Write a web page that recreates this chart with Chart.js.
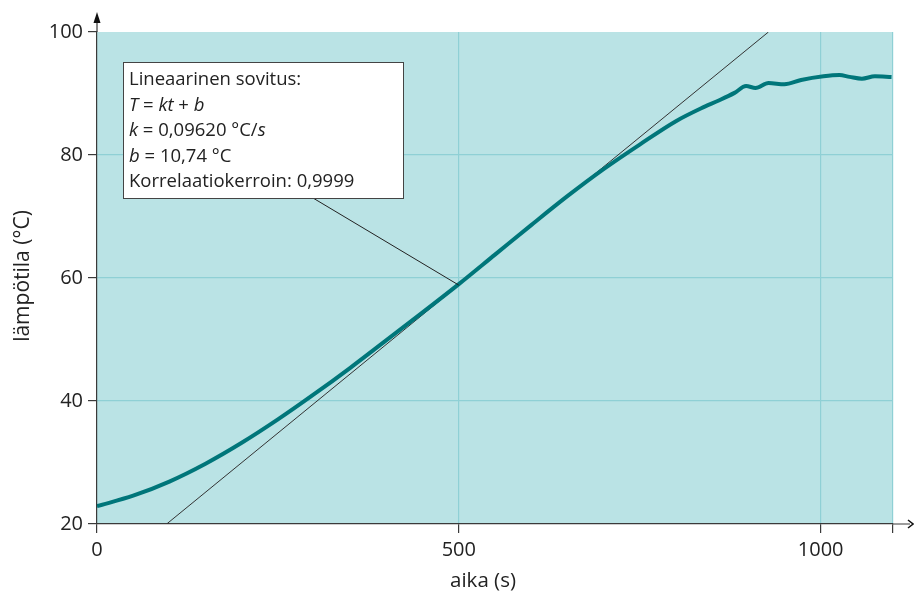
<!DOCTYPE html>
<html>
<head>
<meta charset="utf-8">
<script src="https://cdn.jsdelivr.net/npm/chart.js@4.4.1/dist/chart.umd.min.js"></script>
<style>
  html, body { margin: 0; padding: 0; background: #fff; }
  #wrap { width: 914px; height: 595px; }
</style>
</head>
<body>
<div id="wrap"><canvas id="tempChart" width="914" height="595"></canvas></div>
<script>
/* ---- data ---- */
const timeValues = [0, 50, 100, 150, 200, 250, 300, 350, 400, 450, 500, 550, 600, 650, 700,
  750, 800, 835, 860, 881, 897, 910, 928, 950, 973, 1004, 1026, 1040, 1057, 1075, 1098];
const tempValues = [22.9, 24.6, 26.9, 29.8, 33.2, 37.0, 41.1, 45.4, 49.9, 54.4, 59.0, 63.8, 68.6, 73.3, 77.7,
  81.7, 85.5, 87.6, 88.9, 90.1, 91.2, 90.9, 91.7, 91.5, 92.2, 92.8, 93.0, 92.7, 92.4, 92.8, 92.7];

// linear fit T = k t + b
const fitK = 0.09620;
const fitB = 10.74;

const xTicks = [0, 500, 1000, 1100];
const yTicks = [20, 40, 60, 80, 100];
const xGridAt = [500, 1000, 1100];
const yGridAt = [40, 60, 80];

const xTitle = "aika (s)";
const yTitle = "lämpötila (°C)";

// text box, each line as [text, italic?] pieces
const fitLines = [
  [["Lineaarinen sovitus:", false]],
  [["T", true], [" = ", false], ["kt", true], [" + ", false], ["b", true]],
  [["k", true], [" = 0,09620 °C/", false], ["s", true]],
  [["b", true], [" = 10,74 °C", false]],
  [["Korrelaatiokerroin: 0,9999", false]]
];

const FONT = "'Open Sans', 'DejaVu Sans', sans-serif";
const AXIS_COL = "#3a3a3a";
const GRID_COL = "#8fd0d5";
const BG_COL = "#bae3e5";

/* ---- build series ---- */
const measured = timeValues.map((t, i) => ({ x: t, y: tempValues[i] }));
const tStart = (yTicks[0] - fitB) / fitK;
const tEnd = (yTicks[yTicks.length - 1] - fitB) / fitK;
const fitted = [tStart, tEnd].map((t) => ({ x: t, y: fitK * t + fitB }));

/* ---- plot background, arrows, titles, text box ---- */
const decor = {
  id: "decor",
  beforeDraw(chart) {
    const { ctx, chartArea: a } = chart;
    ctx.save();
    ctx.fillStyle = BG_COL;
    ctx.fillRect(a.left, a.top, a.right - a.left, a.bottom - a.top);
    ctx.restore();
  },
  afterDraw(chart) {
    const { ctx, chartArea: a, scales } = chart;
    ctx.save();
    // axis extensions with arrow heads
    ctx.strokeStyle = AXIS_COL;
    ctx.fillStyle = "#111";
    ctx.lineWidth = 1.2;
    ctx.beginPath();
    ctx.moveTo(a.left, a.top);
    ctx.lineTo(a.left, 20);
    ctx.moveTo(a.right, a.bottom);
    ctx.lineTo(910, a.bottom);
    ctx.stroke();
    ctx.beginPath();
    ctx.moveTo(a.left, 12);
    ctx.lineTo(a.left - 3.5, 23);
    ctx.lineTo(a.left + 3.5, 23);
    ctx.closePath();
    ctx.fill();
    ctx.lineWidth = 1.5;
    ctx.strokeStyle = "#111";
    ctx.beginPath();
    ctx.moveTo(908, a.bottom - 4);
    ctx.lineTo(913, a.bottom);
    ctx.lineTo(908, a.bottom + 4);
    ctx.stroke();

    // axis titles
    ctx.fillStyle = "#222";
    ctx.textAlign = "center";
    ctx.textBaseline = "middle";
    ctx.font = "20.5px " + FONT;
    ctx.fillText(xTitle, 483, 581);
    ctx.translate(23, 276);
    ctx.rotate(-Math.PI / 2);
    ctx.font = "21px " + FONT;
    ctx.fillText(yTitle, 0, 0);
    ctx.setTransform(1, 0, 0, 1, 0, 0);

    // leader line from box to the curve at t = 500
    const px = scales.x.getPixelForValue(500);
    const py = scales.y.getPixelForValue(fitK * 500 + fitB);
    ctx.strokeStyle = "#222";
    ctx.lineWidth = 1;
    ctx.beginPath();
    ctx.moveTo(313, 198);
    ctx.lineTo(px, py);
    ctx.stroke();

    // box
    const bx = 123, by = 62, bw = 280, bh = 136;
    ctx.fillStyle = "#fff";
    ctx.fillRect(bx, by, bw, bh);
    ctx.strokeStyle = "#444";
    ctx.lineWidth = 1;
    ctx.strokeRect(bx + 0.5, by + 0.5, bw, bh);

    ctx.fillStyle = "#222";
    ctx.textAlign = "left";
    ctx.textBaseline = "middle";
    fitLines.forEach((parts, i) => {
      let x = bx + 6;
      const y = by + 18 + i * 25.5;
      parts.forEach(([txt, it]) => {
        ctx.font = (it ? "italic " : "") + "18.5px " + FONT;
        ctx.fillText(txt, x, y);
        x += ctx.measureText(txt).width;
      });
    });
    ctx.restore();
  }
};

new Chart(document.getElementById("tempChart"), {
  type: "scatter",
  data: {
    datasets: [
      {
        label: "sovitus",
        data: fitted,
        showLine: true,
        borderColor: "#333",
        borderWidth: 1,
        pointRadius: 0,
        order: 2
      },
      {
        label: "mittaus",
        data: measured,
        showLine: true,
        borderColor: "#00767a",
        borderWidth: 4,
        pointRadius: 0,
        cubicInterpolationMode: "monotone",
        order: 1
      }
    ]
  },
  options: {
    responsive: false,
    animation: false,
    layout: { padding: { top: 32, right: 21, left: 0, bottom: 0 } },
    plugins: {
      legend: { display: false },
      tooltip: { enabled: false }
    },
    scales: {
      x: {
        type: "linear",
        min: 0,
        max: 1100,
        afterBuildTicks: (s) => { s.ticks = xTicks.map((v) => ({ value: v })); },
        afterFit: (s) => { s.height = 71; },
        ticks: {
          color: "#222",
          font: { family: FONT, size: 20 },
          padding: 5,
          maxRotation: 0,
          callback: (v) => (v === 1100 ? "" : v)
        },
        grid: {
          color: (c) => (xGridAt.includes(c.tick && c.tick.value) ? GRID_COL : "rgba(0,0,0,0)"),
          tickColor: AXIS_COL,
          tickLength: 9,
          lineWidth: 1.2
        },
        border: { display: true, color: AXIS_COL, width: 1.2 }
      },
      y: {
        min: 20,
        max: 100,
        afterBuildTicks: (s) => { s.ticks = yTicks.map((v) => ({ value: v })); },
        afterFit: (s) => { s.width = 97; },
        ticks: {
          color: "#222",
          font: { family: FONT, size: 20 },
          padding: 5
        },
        grid: {
          color: (c) => (yGridAt.includes(c.tick && c.tick.value) ? GRID_COL : "rgba(0,0,0,0)"),
          tickColor: AXIS_COL,
          tickLength: 9,
          lineWidth: 1.2
        },
        border: { display: true, color: AXIS_COL, width: 1.2 }
      }
    }
  },
  plugins: [decor]
});
</script>
</body>
</html>
